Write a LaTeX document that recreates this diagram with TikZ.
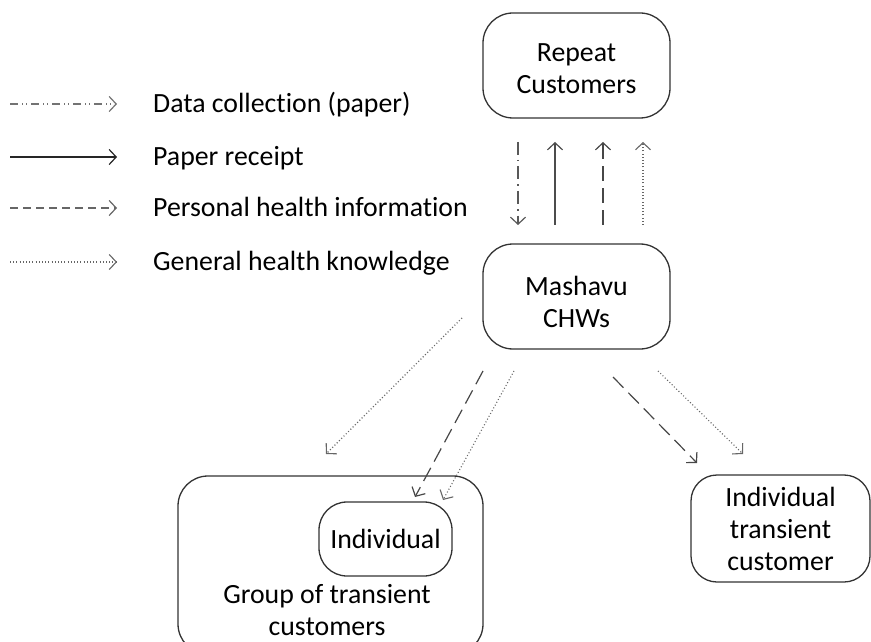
\documentclass[tikz,border=0pt]{standalone}
\usepackage{fontspec}
\setmainfont{Carlito}[RawFeature=-liga]
\usetikzlibrary{arrows.meta}
\tikzset{
  box/.style={draw=black!80, line width=1.3bp, rounded corners=30bp, align=center,
    inner sep=0pt, font=\fontsize{27.8bp}{32bp}\selectfont},
  txt/.style={inner sep=0pt, align=center, font=\fontsize{27.8bp}{32bp}\selectfont},
  arr/.style={line width=1.2bp, -{Straight Barb[length=7bp,width=15bp]}},
  dcol/.style={arr, draw=black!65, dash pattern=on 13bp off 5bp on 1.5bp off 5bp},
  rcpt/.style={arr, draw=black!70},
  phi/.style={arr, draw=black!72, dash pattern=on 15bp off 7bp},
  ghk/.style={arr, draw=black!60, line width=1.1bp, dash pattern=on 1bp off 2.2bp},
  lphi/.style={arr, draw=black!60, dash pattern=on 8bp off 5bp},
  ldcol/.style={arr, draw=black!55, dash pattern=on 8bp off 4bp on 1bp off 3bp on 1bp off 4bp},
}
\begin{document}
\begin{tikzpicture}[x=1bp,y=-1bp]
\useasboundingbox (0,0) rectangle (871,642);
\clip (0,0) rectangle (871,642);
% legend
\coordinate (l1a) at (10,104); \coordinate (l1b) at (117,104);
\coordinate (l2a) at (10,157); \coordinate (l2b) at (117,157);
\coordinate (l3a) at (10,208); \coordinate (l3b) at (117,208);
\coordinate (l4a) at (10,262); \coordinate (l4b) at (117,262);
\draw[ldcol] (l1a) -- (l1b);
\draw[rcpt, draw=black!85] (l2a) -- (l2b);
\draw[lphi] (l3a) -- (l3b);
\draw[ghk] (l4a) -- (l4b);
\node[txt, anchor=base west] (t1) at (153,113) {Data collection (paper)};
\node[txt, anchor=base west] (t2) at (153,166) {Paper receipt};
\node[txt, anchor=base west] (t3) at (153,217) {Personal health information};
\node[txt, anchor=base west] (t4) at (153,270) {General health knowledge};
% boxes
\node[box, minimum width=187bp, minimum height=105bp] (rep) at (576.5,65.5) {\rule{0pt}{24bp}Repeat\\Customers};
\node[box, minimum width=187bp, minimum height=105bp] (msh) at (576.5,296.5) {\rule{0pt}{30bp}Mashavu\\CHWs};
\node[box, minimum width=305bp, minimum height=178bp] (grp) at (330.5,565) {};
\node[txt] (grptext) at (327,610) {Group of transient\\customers};
\node[box, rounded corners=28bp, minimum width=133bp, minimum height=74bp] (ind) at (385.5,539) {Individual};
\node[box, rounded corners=26bp, minimum width=179bp, minimum height=107bp] (itc) at (780.5,528.5) {Individual\\transient\\customer};
% connectors between repeat customers and CHWs
\coordinate (a1t) at (518,142); \coordinate (a1b) at (518,225);
\coordinate (a2t) at (555,142); \coordinate (a2b) at (555,225);
\coordinate (a3t) at (603,142); \coordinate (a3b) at (603,225);
\coordinate (a4t) at (643,142); \coordinate (a4b) at (643,225);
\draw[dcol] (a1t) -- (a1b);
\draw[rcpt] (a2b) -- (a2t);
\draw[phi] (a3b) -- (a3t);
\draw[ghk] (a4b) -- (a4t);
% from CHWs downward
\coordinate (s1) at (462,318); \coordinate (e1) at (326,454);
\coordinate (s2) at (483,371); \coordinate (e2) at (415,497);
\coordinate (s3) at (514,371); \coordinate (e3) at (443,500);
\coordinate (s4) at (613,377); \coordinate (e4) at (697,463);
\coordinate (s5) at (658,371); \coordinate (e5) at (743,454);
\draw[ghk] (s1) -- (e1);
\draw[phi] (s2) -- (e2);
\draw[ghk] (s3) -- (e3);
\draw[phi] (s4) -- (e4);
\draw[ghk] (s5) -- (e5);
\end{tikzpicture}
\end{document}
